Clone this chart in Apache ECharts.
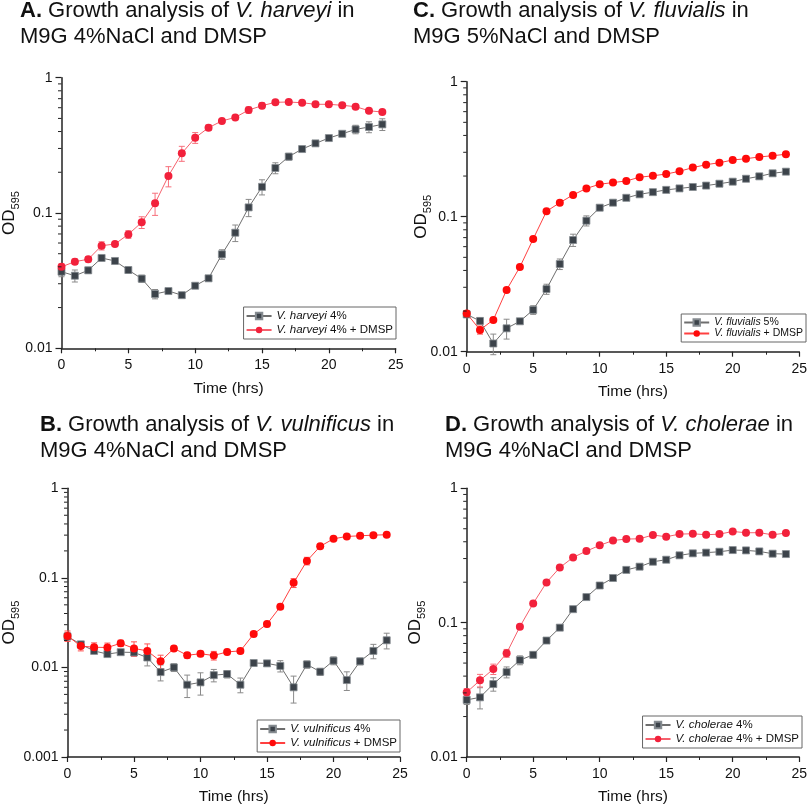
<!DOCTYPE html>
<html>
<head>
<meta charset="utf-8">
<script src="https://cdn.jsdelivr.net/npm/echarts@6/dist/echarts.min.js"></script>
<style>html,body{margin:0;padding:0;background:#fff}#c{width:810px;height:806px}</style>
</head>
<body>
<div id="c"></div>
<script>
// ---------- data ----------
const timeHrs = [0,1,2,3,4,5,6,7,8,9,10,11,12,13,14,15,16,17,18,19,20,21,22,23,24];
const xTickLabels = ['0','5','10','15','20','25'];

// Panel A: V. harveyi
const harveyi4 = [0.0368,0.0344,0.0377,0.0465,0.0442,0.0379,0.0327,0.0252,0.0265,0.0247,0.0290,0.0329,0.0495,0.0715,0.110,0.156,0.215,0.261,0.297,0.327,0.358,0.385,0.415,0.432,0.452];
const harveyi4Err = [0.003,0.0035,0.002,0.002,0.002,0.002,0.002,0.002,0.001,0.001,0.001,0.001,0.004,0.010,0.016,0.02,0.02,0.015,0.01,0.01,0.012,0.015,0.03,0.04,0.045];
const harveyi4Dmsp = [0.040,0.0437,0.0455,0.0573,0.059,0.0695,0.0853,0.118,0.188,0.276,0.360,0.427,0.479,0.509,0.577,0.621,0.658,0.661,0.653,0.636,0.636,0.625,0.611,0.570,0.557];
const harveyi4DmspErr = [0.002,0.002,0.002,0.004,0.002,0.0045,0.0085,0.022,0.032,0.035,0.033,0.02,0.01,0.015,0.03,0.03,0.02,0.015,0.01,0.01,0.01,0.01,0.01,0.01,0.01];

// Panel C: V. fluvialis
const fluvialis5 = [0.0189,0.0169,0.0115,0.0149,0.0168,0.0204,0.0291,0.0446,0.0672,0.0934,0.1166,0.127,0.138,0.1465,0.152,0.158,0.162,0.166,0.170,0.1755,0.1817,0.191,0.199,0.2096,0.2156];
const fluvialis5Err = [0.001,0.001,0.002,0.0025,0.0005,0.0015,0.0025,0.004,0.007,0.008,0.003,0.003,0.003,0.002,0.002,0.002,0.002,0.002,0.002,0.002,0.002,0.002,0.002,0.002,0.002];
const fluvialisDmsp = [0.0192,0.0145,0.0172,0.0287,0.0424,0.0684,0.1096,0.127,0.145,0.162,0.174,0.179,0.184,0.196,0.201,0.207,0.217,0.231,0.243,0.251,0.263,0.269,0.277,0.283,0.290];
const fluvialisDmspErr = [0.001,0.001,0.0005,0.0005,0.001,0.001,0.002,0.002,0.002,0.002,0.002,0.002,0.002,0.002,0.002,0.002,0.002,0.002,0.002,0.002,0.002,0.002,0.002,0.002,0.002];

// Panel B: V. vulnificus
const vulnificus4 = [0.0222,0.0181,0.0153,0.0141,0.0148,0.0147,0.0129,0.00887,0.0100,0.00641,0.00681,0.0082,0.00843,0.00641,0.0112,0.0111,0.0104,0.0060,0.0108,0.00895,0.0119,0.00723,0.0117,0.0153,0.0201];
const vulnificus4Err = [0.002,0.001,0.001,0.0008,0.0008,0.001,0.0025,0.0018,0.001,0.0018,0.0019,0.0013,0.0008,0.0012,0.0008,0.0006,0.0015,0.002,0.001,0.0008,0.0012,0.0017,0.001,0.0028,0.004];
const vulnificusDmsp = [0.0225,0.0173,0.0168,0.0167,0.0186,0.0163,0.0153,0.0117,0.0163,0.0137,0.0142,0.0136,0.0149,0.0153,0.0236,0.0305,0.0476,0.0880,0.1545,0.225,0.273,0.290,0.295,0.300,0.303];
const vulnificusDmspErr = [0.003,0.002,0.002,0.002,0.0015,0.003,0.003,0.002,0.001,0.001,0.001,0.0015,0.001,0.001,0.0015,0.002,0.003,0.01,0.015,0.01,0.01,0.01,0.01,0.01,0.01];

// Panel D: V. cholerae
const cholerae4 = [0.0266,0.0278,0.0349,0.0428,0.0526,0.0576,0.0736,0.0918,0.126,0.155,0.189,0.215,0.247,0.261,0.284,0.294,0.317,0.328,0.332,0.337,0.347,0.345,0.339,0.326,0.324];
const cholerae4Err = [0.002,0.005,0.004,0.004,0.004,0.003,0.003,0.003,0.004,0.004,0.005,0.005,0.005,0.005,0.005,0.005,0.005,0.005,0.005,0.005,0.005,0.005,0.005,0.005,0.005];
const cholerae4Dmsp = [0.0303,0.0372,0.0451,0.0592,0.0934,0.139,0.199,0.257,0.306,0.341,0.376,0.409,0.419,0.421,0.449,0.436,0.456,0.459,0.451,0.456,0.477,0.467,0.467,0.451,0.464];
const cholerae4DmspErr = [0.002,0.004,0.004,0.004,0.003,0.003,0.004,0.004,0.004,0.004,0.004,0.004,0.004,0.004,0.004,0.004,0.004,0.004,0.004,0.004,0.004,0.004,0.004,0.004,0.004];

// log-axis minor tick values
const minorTicks2 = [0.02,0.03,0.04,0.05,0.06,0.07,0.08,0.09,0.2,0.3,0.4,0.5,0.6,0.7,0.8,0.9];
const minorTicks3 = [0.002,0.003,0.004,0.005,0.006,0.007,0.008,0.009,0.02,0.03,0.04,0.05,0.06,0.07,0.08,0.09,0.2,0.3,0.4,0.5,0.6,0.7,0.8,0.9];

// ---------- chart ----------
const FONT = 'Liberation Sans, Arial, sans-serif';
const panels = [
  {title:'{b|A.} Growth analysis of {i|V. harveyi} in\nM9G 4%NaCl and DMSP', tLeft:20, tTop:-2,
   grid:{left:59.3, top:77.7, width:336.4, height:270.6}, ymin:0.01, minor:minorTicks2, nameGap:40,
   legend:{right:414, top:307, fs:11.5, gap:2},
   names:['V. harveyi 4%','V. harveyi 4% + DMSP'], g:harveyi4, gE:harveyi4Err, r:harveyi4Dmsp, rE:harveyi4DmspErr,
   red:'#f2213b', redLine:'#f5606c', redErr:'#f7707c'},
  {title:'{b|C.} Growth analysis of {i|V. fluvialis} in\nM9G 5%NaCl and DMSP', tLeft:413, tTop:-2,
   grid:{left:466.7, top:81.7, width:335.6, height:270}, ymin:0.01, minor:minorTicks2, nameGap:33,
   legend:{right:4, top:314, fs:10.5, gap:0},
   names:['V. fluvialis 5%','V. fluvialis + DMSP'], g:fluvialis5, gE:fluvialis5Err, r:fluvialisDmsp, rE:fluvialisDmspErr,
   red:'#ff0a0a', redLine:'#ff4040', redErr:'#ff5050'},
  {title:'{b|B.} Growth analysis of {i|V. vulnificus} in\nM9G 4%NaCl and DMSP', tLeft:40, tTop:412,
   grid:{left:64, top:488.3, width:336, height:270}, ymin:0.001, minor:minorTicks3, nameGap:46,
   legend:{right:410, top:720, fs:11.5, gap:2},
   names:['V. vulnificus 4%','V. vulnificus + DMSP'], g:vulnificus4, gE:vulnificus4Err, r:vulnificusDmsp, rE:vulnificusDmspErr,
   red:'#ff0a0a', redLine:'#ff4040', redErr:'#ff5050'},
  {title:'{b|D.} Growth analysis of {i|V. cholerae} in\nM9G 4%NaCl and DMSP', tLeft:445, tTop:412,
   grid:{left:466.7, top:488.3, width:335.6, height:270}, ymin:0.01, minor:minorTicks2, nameGap:39,
   legend:{right:8, top:716, fs:11.5, gap:2},
   names:['V. cholerae 4%','V. cholerae 4% + DMSP'], g:cholerae4, gE:cholerae4Err, r:cholerae4Dmsp, rE:cholerae4DmspErr,
   red:'#f2213b', redLine:'#f5606c', redErr:'#f7707c'}
];

function errRender(color){
  return function(params, api){
    const x = api.value(0);
    const lo = api.coord([x, api.value(1)]);
    const hi = api.coord([x, api.value(2)]);
    const w = 3;
    const st = {stroke: color, lineWidth: 1};
    return {type:'group', children:[
      {type:'line', shape:{x1:lo[0], y1:lo[1], x2:hi[0], y2:hi[1]}, style:st},
      {type:'line', shape:{x1:lo[0]-w, y1:lo[1], x2:lo[0]+w, y2:lo[1]}, style:st},
      {type:'line', shape:{x1:hi[0]-w, y1:hi[1], x2:hi[0]+w, y2:hi[1]}, style:st}
    ]};
  };
}
function minorRender(params, api){
  const p = api.coord([api.value(0), api.value(1)]);
  return {type:'line', shape:{x1:p[0]-3.5, y1:p[1], x2:p[0], y2:p[1]}, style:{stroke:'#222', lineWidth:1}};
}

const option = {animation:false, textStyle:{fontFamily:FONT}, title:[], grid:[], xAxis:[], yAxis:[], legend:[], series:[]};

panels.forEach((p, k) => {
  option.title.push({text:p.title, left:p.tLeft, top:p.tTop, padding:0,
    textStyle:{fontFamily:FONT, fontSize:22, fontWeight:'normal', color:'#111', lineHeight:26,
      rich:{b:{fontWeight:'bold', fontSize:22, lineHeight:26, fontFamily:FONT, color:'#111'},
            i:{fontStyle:'italic', fontSize:22, lineHeight:26, fontFamily:FONT, color:'#111'}}}});
  option.grid.push(Object.assign({}, p.grid));
  option.xAxis.push({type:'value', gridIndex:k, min:0, max:25, interval:5,
    name:'Time (hrs)', nameLocation:'middle', nameGap:32, nameMoveOverlap:false,
    nameTextStyle:{fontSize:15.5, color:'#111', fontFamily:FONT},
    axisLine:{onZero:false, lineStyle:{color:'#222', width:1.5}},
    axisTick:{length:5, lineStyle:{color:'#222', width:1.2}},
    minorTick:{show:true, splitNumber:2, length:3, lineStyle:{color:'#222', width:1}},
    splitLine:{show:false},
    axisLabel:{fontSize:14, color:'#111', margin:10, fontFamily:FONT,
      formatter: v => xTickLabels[Math.round(v/5)]}});
  option.yAxis.push({type:'log', logBase:10, gridIndex:k, min:p.ymin, max:1,
    name:'{a|OD}{s|595}', nameLocation:'middle', nameRotate:90, nameGap:p.nameGap, nameMoveOverlap:false,
    nameTextStyle:{fontFamily:FONT, color:'#111',
      rich:{a:{fontSize:17, lineHeight:24, fontFamily:FONT, color:'#111'},
            s:{fontSize:11, verticalAlign:'bottom', fontFamily:FONT, color:'#111'}}},
    axisLine:{show:true, lineStyle:{color:'#222', width:1.5}},
    axisTick:{length:6, lineStyle:{color:'#222', width:1.2}},
    splitLine:{show:false},
    axisLabel:{fontSize:14, color:'#111', margin:9, fontFamily:FONT,
      formatter: v => String(+(+v).toPrecision(3))}});
  option.legend.push({data:p.names, right:p.legend.right, top:p.legend.top, orient:'vertical',
    itemWidth:25, itemHeight:8, itemGap:p.legend.gap, padding:[3,3,3,2],
    borderColor:'#666', borderWidth:1, backgroundColor:'#fff', selectedMode:false,
    textStyle:{fontFamily:FONT, fontSize:p.legend.fs, color:'#111',
      rich:{i:{fontStyle:'italic', fontSize:p.legend.fs, fontFamily:FONT, color:'#111'},
            n:{fontSize:p.legend.fs, fontFamily:FONT, color:'#111'}}},
    formatter: name => { const m = name.match(/^(V\. \S+)(.*)$/); return '{i|' + m[1] + '}{n|' + m[2] + '}'; }});
  // error bars
  option.series.push({type:'custom', xAxisIndex:k, yAxisIndex:k, silent:true, z:1,
    encode:{x:0, y:[1,2]}, renderItem:errRender('#8a8a8a'),
    data: timeHrs.map((t,i) => [t, p.g[i]-p.gE[i], p.g[i]+p.gE[i]])});
  option.series.push({type:'custom', xAxisIndex:k, yAxisIndex:k, silent:true, z:1,
    encode:{x:0, y:[1,2]}, renderItem:errRender(p.redErr),
    data: timeHrs.map((t,i) => [t, p.r[i]-p.rE[i], p.r[i]+p.rE[i]])});
  // lines
  option.series.push({type:'line', name:p.names[0], xAxisIndex:k, yAxisIndex:k, z:3,
    symbol:'rect', symbolSize:7, showSymbol:true,
    lineStyle:{color:'#6e6e6e', width:1},
    itemStyle:{color:'#3c434a', borderColor:'#858b90', borderWidth:0.8},
    data: timeHrs.map((t,i) => [t, p.g[i]])});
  option.series.push({type:'line', name:p.names[1], xAxisIndex:k, yAxisIndex:k, z:4,
    symbol:'circle', symbolSize:8, showSymbol:true,
    lineStyle:{color:p.redLine, width:1},
    itemStyle:{color:p.red},
    data: timeHrs.map((t,i) => [t, p.r[i]])});
  // log minor ticks
  option.series.push({type:'custom', xAxisIndex:k, yAxisIndex:k, silent:true, z:5, clip:false,
    encode:{x:0, y:1}, renderItem:minorRender,
    data: p.minor.map(v => [0, v])});
});

const chart = echarts.init(document.getElementById('c'), null, {renderer:'canvas'});
chart.setOption(option);
</script>
</body>
</html>
